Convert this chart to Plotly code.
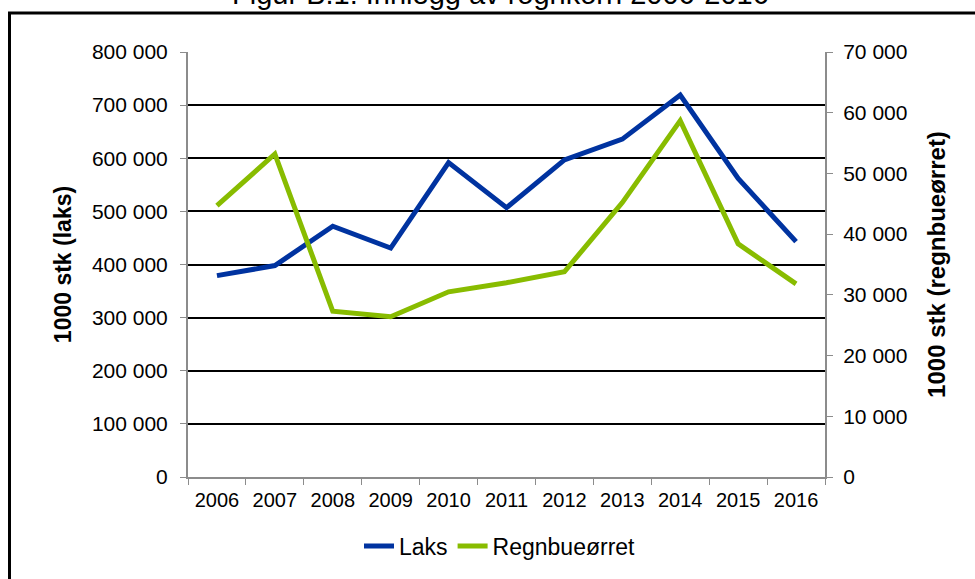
import plotly.graph_objects as go

years = ["2006", "2007", "2008", "2009", "2010", "2011", "2012", "2013", "2014", "2015", "2016"]
laks = [379000, 398000, 472000, 431000, 592000, 507000, 597000, 636000, 719000, 562000, 443000]
regnbue = [44700, 53200, 27300, 26400, 30500, 32000, 33800, 45200, 58700, 38400, 31800]

W, H = 975, 579
L, R, T, B = 188, 825, 52, 477

def px(x):
    return (x - L) / (R - L)

def py(y):
    return (B - y) / (B - T)

BLUE = "#0033a0"
GREEN = "#88bc00"
GRAY = "#8c8c8c"
FONT = "Liberation Sans, Arial, sans-serif"

fig = go.Figure()
fig.add_trace(go.Scatter(x=years, y=laks, name="Laks", mode="lines",
                         line=dict(color=BLUE, width=5), yaxis="y"))
fig.add_trace(go.Scatter(x=years, y=regnbue, name="Regnbueørret", mode="lines",
                         line=dict(color=GREEN, width=5), yaxis="y2"))

fig.update_layout(
    width=W, height=H,
    margin=dict(l=L, r=W - R, t=T, b=H - B, pad=0),
    paper_bgcolor="white", plot_bgcolor="white",
    separators=", ",
    font=dict(family=FONT, size=20, color="#000000"),
    showlegend=True,
    legend=dict(orientation="h", x=px(500), xanchor="center", y=py(546), yanchor="middle",
                font=dict(size=23), bgcolor="rgba(0,0,0,0)", traceorder="normal",
                itemwidth=30),
    xaxis=dict(type="category", showgrid=False, zeroline=False,
               showline=True, linecolor=GRAY, linewidth=2,
               ticks="outside", tickson="boundaries", ticklen=6, tickcolor=GRAY, tickwidth=1,
               ticklabelstandoff=4,
               tickfont=dict(size=20), range=[-0.5, 10.5]),
    yaxis=dict(range=[0, 800000], dtick=100000, tickformat=",d",
               showgrid=True, gridcolor="#000000", gridwidth=2, zeroline=False,
               showline=True, linecolor=GRAY, linewidth=2,
               ticks="outside", ticklen=6, tickcolor=GRAY, ticklabelstandoff=8,
               tickfont=dict(size=21),
               title=dict(text="<b>1000 stk (laks)</b>", font=dict(size=23), standoff=14)),
    yaxis2=dict(range=[0, 70000], dtick=10000, tickformat=",d", overlaying="y", side="right",
                showgrid=False, zeroline=False,
                showline=True, linecolor=GRAY, linewidth=2,
                ticks="outside", ticklen=6, tickcolor=GRAY, ticklabelstandoff=6,
                tickfont=dict(size=21),
                title=dict(text="<b>1000 stk (regnbueørret)</b>", font=dict(size=24), standoff=22)),
)

# outer frame (partly outside the photographed window)
fig.add_shape(type="path", xref="paper", yref="paper",
              path=f"M {px(9.5)} {py(600)} L {px(9.5)} {py(13)} L {px(1000)} {py(13)}",
              line=dict(color="#000000", width=3))

# title, cut at the top edge as in the reference
fig.add_annotation(text="Figur B.1: Innlegg av rognkorn 2006-2016", xref="paper", yref="paper",
                   x=px(500), y=py(12), xanchor="center", yanchor="bottom", showarrow=False,
                   font=dict(size=29, family=FONT))

fig.write_html("out.html", config={"displayModeBar": False},
               post_script="document.body.style.margin='0';")
